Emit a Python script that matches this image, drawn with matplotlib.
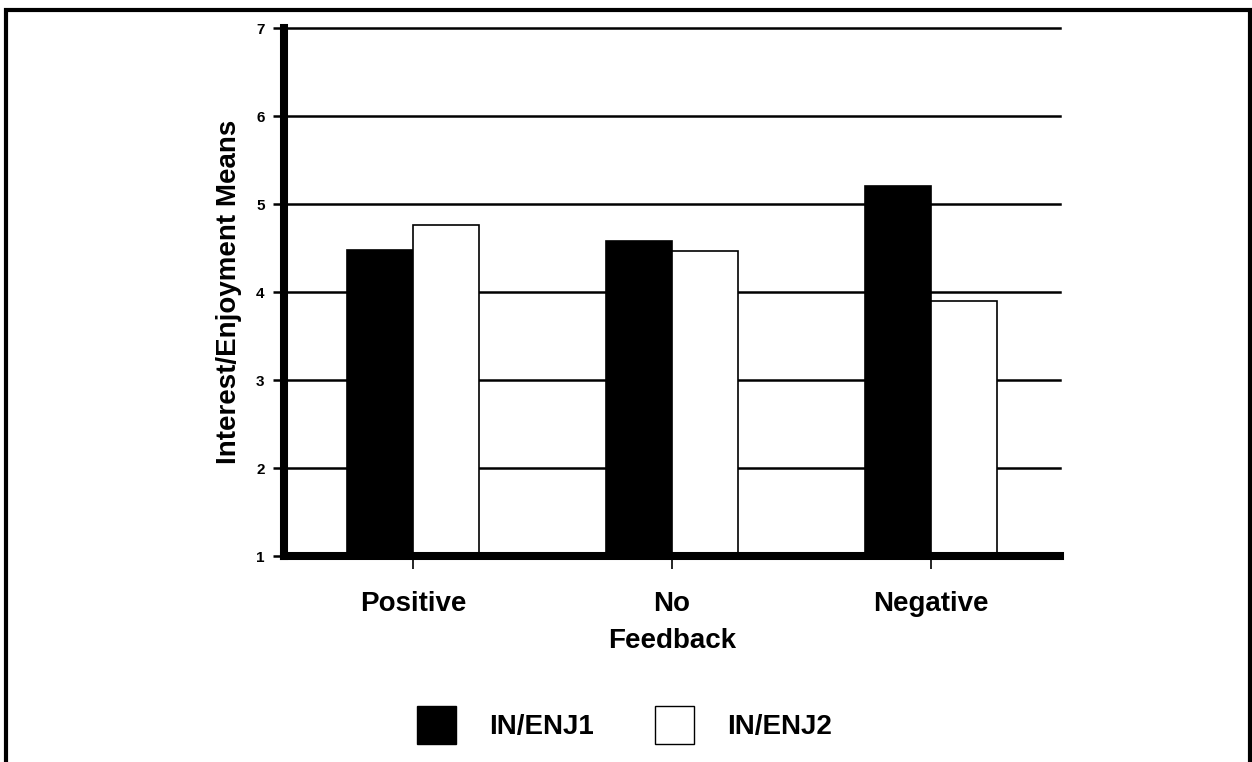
import numpy as np
import matplotlib
matplotlib.use("Agg")
import matplotlib.pyplot as plt
from matplotlib.patches import Patch, Rectangle

plt.rcParams['font.family'] = ['Liberation Sans', 'DejaVu Sans']
plt.rcParams['font.weight'] = 'bold'
plt.rcParams['axes.labelweight'] = 'bold'

feedback = ["Positive", "No", "Negative"]
in_enj1 = [4.48, 4.58, 5.21]
in_enj2 = [4.76, 4.47, 3.90]
series_names = ["IN/ENJ1", "IN/ENJ2"]
y_ticks = [1, 2, 3, 4, 5, 6, 7]

fig = plt.figure(figsize=(12.52, 7.62), dpi=100)
ax = fig.add_axes([0.2268, 0.2703, 0.6198, 0.6923])

x = np.arange(len(feedback))
w = 0.255
ax.bar(x - w / 2, in_enj1, w, color="black", edgecolor="black", linewidth=1.2, zorder=3)
ax.bar(x + w / 2, in_enj2, w, color="white", edgecolor="black", linewidth=1.2, zorder=3)

ax.set_xlim(-0.5, 2.5)
ax.set_ylim(1, 7)
ax.set_yticks(y_ticks)
ax.set_yticklabels([str(t) for t in y_ticks], fontsize=11)
ax.set_xticks(x)
ax.set_xticklabels(feedback, fontsize=20)

# horizontal gridlines behind the bars
for t in y_ticks[1:]:
    ax.axhline(t, color="black", linewidth=1.8, zorder=1, clip_on=False)

for s in ["top", "right"]:
    ax.spines[s].set_visible(False)
ax.spines["left"].set_linewidth(5.8)
ax.spines["bottom"].set_linewidth(5.8)
ax.spines["left"].set_zorder(4)
ax.spines["bottom"].set_zorder(4)

ax.tick_params(axis="y", length=8, width=1.8, pad=6)
ax.tick_params(axis="x", length=9, width=1.2, pad=16)

ax.set_ylabel("Interest/Enjoyment Means", fontsize=20, labelpad=10)
ax.set_xlabel("Feedback", fontsize=20, labelpad=8)

handles = [Patch(facecolor="black", edgecolor="black"),
           Patch(facecolor="white", edgecolor="black", linewidth=1)]
fig.legend(handles, series_names, loc="center", bbox_to_anchor=(0.499, 0.0486),
           ncol=2, frameon=False, fontsize=20, handlelength=1.4, handleheight=1.75,
           handletextpad=1.2, columnspacing=2.2)

# outer frame, open at the bottom
fig.patches.append(Rectangle((6 / 1252, -0.1), 1244 / 1252, 1.1 - 10 / 762,
                             transform=fig.transFigure, fill=False,
                             edgecolor="black", linewidth=3))

fig.savefig("out.png", dpi=100)
